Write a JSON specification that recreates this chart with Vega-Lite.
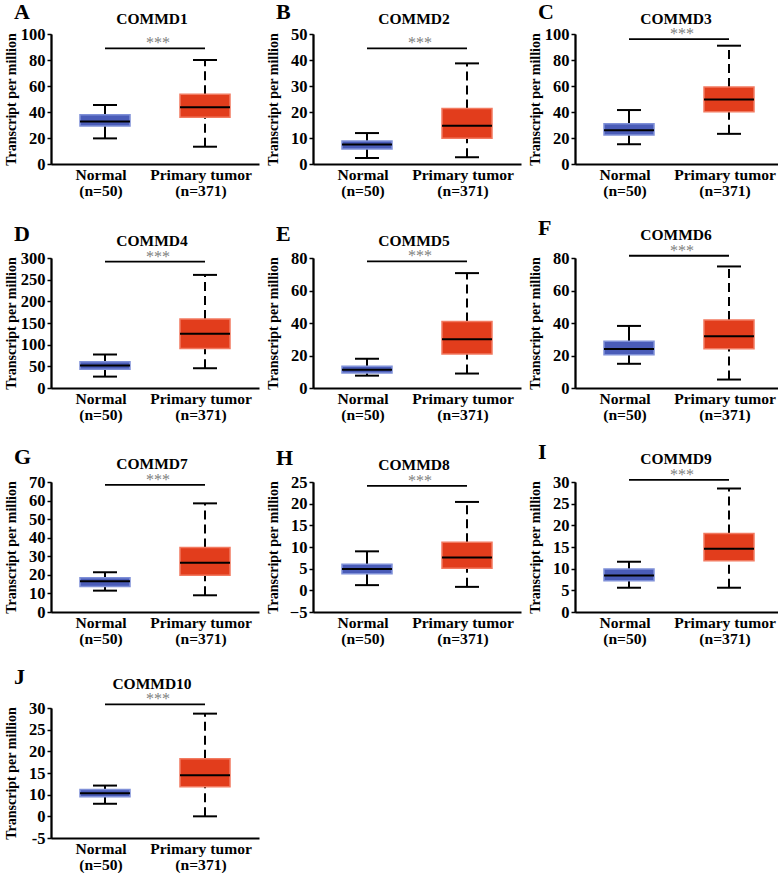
{
  "$schema": "https://vega.github.io/schema/vega-lite/v6.json",
  "padding": {"left": 3, "top": 0, "right": 0, "bottom": 0},
  "datasets": {
    "boxes": [
      {"panel": "A", "group": "Normal", "lower": 19.7, "q1": 29.2, "median": 32.6, "q3": 37.9, "upper": 45.4},
      {"panel": "A", "group": "Primary tumor", "lower": 13.3, "q1": 35.9, "median": 43.6, "q3": 53.6, "upper": 80},
      {"panel": "B", "group": "Normal", "lower": 2.3, "q1": 5.8, "median": 7.5, "q3": 8.8, "upper": 11.9},
      {"panel": "B", "group": "Primary tumor", "lower": 2.6, "q1": 9.9, "median": 14.7, "q3": 21.3, "upper": 38.7},
      {"panel": "C", "group": "Normal", "lower": 15.2, "q1": 22.4, "median": 26.0, "q3": 30.9, "upper": 41.5},
      {"panel": "C", "group": "Primary tumor", "lower": 23.2, "q1": 40.2, "median": 49.7, "q3": 59.3, "upper": 91},
      {"panel": "D", "group": "Normal", "lower": 26.3, "q1": 43.3, "median": 51.8, "q3": 60.3, "upper": 77.3},
      {"panel": "D", "group": "Primary tumor", "lower": 45.6, "q1": 91.3, "median": 125, "q3": 159, "upper": 261},
      {"panel": "E", "group": "Normal", "lower": 7.6, "q1": 9.3, "median": 11.2, "q3": 13.4, "upper": 18.0},
      {"panel": "E", "group": "Primary tumor", "lower": 8.9, "q1": 20.9, "median": 30.0, "q3": 40.9, "upper": 70.7},
      {"panel": "F", "group": "Normal", "lower": 14.9, "q1": 20.5, "median": 24.0, "q3": 28.7, "upper": 38.2},
      {"panel": "F", "group": "Primary tumor", "lower": 5.2, "q1": 24.2, "median": 31.8, "q3": 41.9, "upper": 74.8},
      {"panel": "G", "group": "Normal", "lower": 11.5, "q1": 13.7, "median": 16.6, "q3": 18.5, "upper": 21.4},
      {"panel": "G", "group": "Primary tumor", "lower": 9.0, "q1": 19.8, "median": 26.5, "q3": 34.7, "upper": 58.5},
      {"panel": "H", "group": "Normal", "lower": 1.2, "q1": 3.8, "median": 4.9, "q3": 6.0, "upper": 9.0},
      {"panel": "H", "group": "Primary tumor", "lower": 0.8, "q1": 5.1, "median": 7.6, "q3": 11.1, "upper": 20.4},
      {"panel": "I", "group": "Normal", "lower": 5.6, "q1": 7.2, "median": 8.4, "q3": 9.9, "upper": 11.6},
      {"panel": "I", "group": "Primary tumor", "lower": 5.6, "q1": 11.8, "median": 14.6, "q3": 18.1, "upper": 28.5},
      {"panel": "J", "group": "Normal", "lower": 7.9, "q1": 9.5, "median": 10.3, "q3": 11.2, "upper": 12.1},
      {"panel": "J", "group": "Primary tumor", "lower": 5.0, "q1": 11.8, "median": 14.5, "q3": 18.3, "upper": 28.7}
    ],
    "sig": [
      {"panel": "A", "y": 89, "label": "***"},
      {"panel": "B", "y": 44.5, "label": "***"},
      {"panel": "C", "y": 96.1, "label": "***"},
      {"panel": "D", "y": 291.5, "label": "***"},
      {"panel": "E", "y": 77.9, "label": "***"},
      {"panel": "F", "y": 81.4, "label": "***"},
      {"panel": "G", "y": 68.4, "label": "***"},
      {"panel": "H", "y": 24.1, "label": "***"},
      {"panel": "I", "y": 30.5, "label": "***"},
      {"panel": "J", "y": 30.85, "label": "***"}
    ]
  },
  "spacing": 18,
  "vconcat": [
    {"spacing": 6, "hconcat": [
      {"title": {"text": "A", "anchor": "start", "frame": "bounds", "fontSize": 22, "offset": -29, "dx": 10, "baseline": "alphabetic"},
       "vconcat": [{"width": 208, "height": 130,
        "title": {"text": "COMMD1", "frame": "group", "dx": -3, "baseline": "alphabetic", "offset": -13},
        "resolve": {"axis": {"y": "independent"}},
        "layer": [
          {"data": {"name": "boxes"}, "transform": [{"filter": "datum.panel == 'A'"}],
           "encoding": {"x": {"field": "group", "type": "nominal", "scale": {"domain": ["Normal", "Primary tumor"], "paddingInner": 0, "paddingOuter": 0.04}, "axis": {"labelExpr": "datum.value == 'Normal' ? ['Normal', '(n=50)'] : ['Primary tumor', '(n=371)']"}, "title": null}},
           "layer": [
             {"mark": {"type": "rule", "strokeWidth": 2, "color": "black"}, "encoding": {"y": {"field": "q3", "type": "quantitative", "scale": {"domain": [0, 100], "nice": false, "zero": false}, "axis": {"values": [0, 40, 80], "labelOverlap": false, "title": "Transcript per million"}}, "y2": {"field": "upper"}, "strokeDash": {"field": "group", "type": "nominal", "scale": {"domain": ["Normal", "Primary tumor"], "range": [[1, 0], [9, 5]]}, "legend": null}}},
             {"mark": {"type": "rule", "strokeWidth": 2, "color": "black"}, "encoding": {"y": {"field": "lower", "type": "quantitative"}, "y2": {"field": "q1"}, "strokeDash": {"field": "group", "type": "nominal", "scale": {"domain": ["Normal", "Primary tumor"], "range": [[1, 0], [9, 5]]}, "legend": null}}},
             {"mark": {"type": "tick", "thickness": 2, "size": 24, "color": "black", "opacity": 1}, "encoding": {"y": {"field": "upper", "type": "quantitative"}}},
             {"mark": {"type": "tick", "thickness": 2, "size": 24, "color": "black", "opacity": 1}, "encoding": {"y": {"field": "lower", "type": "quantitative"}}},
             {"mark": {"type": "bar", "width": 50, "strokeWidth": 1.5}, "encoding": {"y": {"field": "q1", "type": "quantitative"}, "y2": {"field": "q3"}, "fill": {"field": "group", "type": "nominal", "scale": {"domain": ["Normal", "Primary tumor"], "range": ["#4a5cb8", "#e23d1c"]}, "legend": null}, "stroke": {"field": "group", "type": "nominal", "scale": {"domain": ["Normal", "Primary tumor"], "range": ["#7f90d8", "#f27a60"]}, "legend": null}}},
             {"mark": {"type": "tick", "thickness": 2, "size": 50, "color": "black", "opacity": 1}, "encoding": {"y": {"field": "median", "type": "quantitative"}}}
           ]},
          {"data": {"name": "sig"}, "transform": [{"filter": "datum.panel == 'A'"}],
           "layer": [
             {"mark": {"type": "rule", "strokeWidth": 1.8, "color": "black"}, "encoding": {"x": {"datum": "Normal", "type": "nominal", "bandPosition": 0.5}, "x2": {"datum": "Primary tumor", "bandPosition": 0.5}, "y": {"field": "y", "type": "quantitative", "axis": {"values": [20, 60, 100], "orient": "left", "labelOverlap": false, "title": null}}}},
             {"mark": {"type": "text", "color": "#808080", "fontSize": 16, "baseline": "alphabetic", "dx": 3, "font": "Liberation Serif"}, "encoding": {"x": {"datum": "Primary tumor", "type": "nominal", "bandPosition": 0}, "y": {"field": "y", "type": "quantitative"}, "text": {"field": "label"}}}
           ]}
        ]}]},
      {"title": {"text": "B", "anchor": "start", "frame": "bounds", "fontSize": 22, "offset": -29, "dx": 10, "baseline": "alphabetic"},
       "vconcat": [{"width": 208, "height": 130,
        "title": {"text": "COMMD2", "frame": "group", "dx": -3, "baseline": "alphabetic", "offset": -13},
        "resolve": {"axis": {"y": "independent"}},
        "layer": [
          {"data": {"name": "boxes"}, "transform": [{"filter": "datum.panel == 'B'"}],
           "encoding": {"x": {"field": "group", "type": "nominal", "scale": {"domain": ["Normal", "Primary tumor"], "paddingInner": 0, "paddingOuter": 0.04}, "axis": {"labelExpr": "datum.value == 'Normal' ? ['Normal', '(n=50)'] : ['Primary tumor', '(n=371)']"}, "title": null}},
           "layer": [
             {"mark": {"type": "rule", "strokeWidth": 2, "color": "black"}, "encoding": {"y": {"field": "q3", "type": "quantitative", "scale": {"domain": [0, 50], "nice": false, "zero": false}, "axis": {"values": [0, 20, 40], "labelOverlap": false, "title": "Transcript per million"}}, "y2": {"field": "upper"}, "strokeDash": {"field": "group", "type": "nominal", "scale": {"domain": ["Normal", "Primary tumor"], "range": [[1, 0], [9, 5]]}, "legend": null}}},
             {"mark": {"type": "rule", "strokeWidth": 2, "color": "black"}, "encoding": {"y": {"field": "lower", "type": "quantitative"}, "y2": {"field": "q1"}, "strokeDash": {"field": "group", "type": "nominal", "scale": {"domain": ["Normal", "Primary tumor"], "range": [[1, 0], [9, 5]]}, "legend": null}}},
             {"mark": {"type": "tick", "thickness": 2, "size": 24, "color": "black", "opacity": 1}, "encoding": {"y": {"field": "upper", "type": "quantitative"}}},
             {"mark": {"type": "tick", "thickness": 2, "size": 24, "color": "black", "opacity": 1}, "encoding": {"y": {"field": "lower", "type": "quantitative"}}},
             {"mark": {"type": "bar", "width": 50, "strokeWidth": 1.5}, "encoding": {"y": {"field": "q1", "type": "quantitative"}, "y2": {"field": "q3"}, "fill": {"field": "group", "type": "nominal", "scale": {"domain": ["Normal", "Primary tumor"], "range": ["#4a5cb8", "#e23d1c"]}, "legend": null}, "stroke": {"field": "group", "type": "nominal", "scale": {"domain": ["Normal", "Primary tumor"], "range": ["#7f90d8", "#f27a60"]}, "legend": null}}},
             {"mark": {"type": "tick", "thickness": 2, "size": 50, "color": "black", "opacity": 1}, "encoding": {"y": {"field": "median", "type": "quantitative"}}}
           ]},
          {"data": {"name": "sig"}, "transform": [{"filter": "datum.panel == 'B'"}],
           "layer": [
             {"mark": {"type": "rule", "strokeWidth": 1.8, "color": "black"}, "encoding": {"x": {"datum": "Normal", "type": "nominal", "bandPosition": 0.5}, "x2": {"datum": "Primary tumor", "bandPosition": 0.5}, "y": {"field": "y", "type": "quantitative", "axis": {"values": [10, 30, 50], "orient": "left", "labelOverlap": false, "title": null}}}},
             {"mark": {"type": "text", "color": "#808080", "fontSize": 16, "baseline": "alphabetic", "dx": 3, "font": "Liberation Serif"}, "encoding": {"x": {"datum": "Primary tumor", "type": "nominal", "bandPosition": 0}, "y": {"field": "y", "type": "quantitative"}, "text": {"field": "label"}}}
           ]}
        ]}]},
      {"title": {"text": "C", "anchor": "start", "frame": "bounds", "fontSize": 22, "offset": -29, "dx": 10, "baseline": "alphabetic"},
       "vconcat": [{"width": 208, "height": 130,
        "title": {"text": "COMMD3", "frame": "group", "dx": -3, "baseline": "alphabetic", "offset": -13},
        "resolve": {"axis": {"y": "independent"}},
        "layer": [
          {"data": {"name": "boxes"}, "transform": [{"filter": "datum.panel == 'C'"}],
           "encoding": {"x": {"field": "group", "type": "nominal", "scale": {"domain": ["Normal", "Primary tumor"], "paddingInner": 0, "paddingOuter": 0.04}, "axis": {"labelExpr": "datum.value == 'Normal' ? ['Normal', '(n=50)'] : ['Primary tumor', '(n=371)']"}, "title": null}},
           "layer": [
             {"mark": {"type": "rule", "strokeWidth": 2, "color": "black"}, "encoding": {"y": {"field": "q3", "type": "quantitative", "scale": {"domain": [0, 100], "nice": false, "zero": false}, "axis": {"values": [0, 40, 80], "labelOverlap": false, "title": "Transcript per million"}}, "y2": {"field": "upper"}, "strokeDash": {"field": "group", "type": "nominal", "scale": {"domain": ["Normal", "Primary tumor"], "range": [[1, 0], [9, 5]]}, "legend": null}}},
             {"mark": {"type": "rule", "strokeWidth": 2, "color": "black"}, "encoding": {"y": {"field": "lower", "type": "quantitative"}, "y2": {"field": "q1"}, "strokeDash": {"field": "group", "type": "nominal", "scale": {"domain": ["Normal", "Primary tumor"], "range": [[1, 0], [9, 5]]}, "legend": null}}},
             {"mark": {"type": "tick", "thickness": 2, "size": 24, "color": "black", "opacity": 1}, "encoding": {"y": {"field": "upper", "type": "quantitative"}}},
             {"mark": {"type": "tick", "thickness": 2, "size": 24, "color": "black", "opacity": 1}, "encoding": {"y": {"field": "lower", "type": "quantitative"}}},
             {"mark": {"type": "bar", "width": 50, "strokeWidth": 1.5}, "encoding": {"y": {"field": "q1", "type": "quantitative"}, "y2": {"field": "q3"}, "fill": {"field": "group", "type": "nominal", "scale": {"domain": ["Normal", "Primary tumor"], "range": ["#4a5cb8", "#e23d1c"]}, "legend": null}, "stroke": {"field": "group", "type": "nominal", "scale": {"domain": ["Normal", "Primary tumor"], "range": ["#7f90d8", "#f27a60"]}, "legend": null}}},
             {"mark": {"type": "tick", "thickness": 2, "size": 50, "color": "black", "opacity": 1}, "encoding": {"y": {"field": "median", "type": "quantitative"}}}
           ]},
          {"data": {"name": "sig"}, "transform": [{"filter": "datum.panel == 'C'"}],
           "layer": [
             {"mark": {"type": "rule", "strokeWidth": 1.8, "color": "black"}, "encoding": {"x": {"datum": "Normal", "type": "nominal", "bandPosition": 0.5}, "x2": {"datum": "Primary tumor", "bandPosition": 0.5}, "y": {"field": "y", "type": "quantitative", "axis": {"values": [20, 60, 100], "orient": "left", "labelOverlap": false, "title": null}}}},
             {"mark": {"type": "text", "color": "#808080", "fontSize": 16, "baseline": "alphabetic", "dx": 3, "font": "Liberation Serif"}, "encoding": {"x": {"datum": "Primary tumor", "type": "nominal", "bandPosition": 0}, "y": {"field": "y", "type": "quantitative"}, "text": {"field": "label"}}}
           ]}
        ]}]}
    ]},
    {"spacing": 6, "hconcat": [
      {"title": {"text": "D", "anchor": "start", "frame": "bounds", "fontSize": 22, "offset": -29, "dx": 10, "baseline": "alphabetic"},
       "vconcat": [{"width": 208, "height": 130,
        "title": {"text": "COMMD4", "frame": "group", "dx": -3, "baseline": "alphabetic", "offset": -13},
        "resolve": {"axis": {"y": "independent"}},
        "layer": [
          {"data": {"name": "boxes"}, "transform": [{"filter": "datum.panel == 'D'"}],
           "encoding": {"x": {"field": "group", "type": "nominal", "scale": {"domain": ["Normal", "Primary tumor"], "paddingInner": 0, "paddingOuter": 0.04}, "axis": {"labelExpr": "datum.value == 'Normal' ? ['Normal', '(n=50)'] : ['Primary tumor', '(n=371)']"}, "title": null}},
           "layer": [
             {"mark": {"type": "rule", "strokeWidth": 2, "color": "black"}, "encoding": {"y": {"field": "q3", "type": "quantitative", "scale": {"domain": [0, 300], "nice": false, "zero": false}, "axis": {"values": [0, 100, 200, 300], "labelOverlap": false, "title": "Transcript per million"}}, "y2": {"field": "upper"}, "strokeDash": {"field": "group", "type": "nominal", "scale": {"domain": ["Normal", "Primary tumor"], "range": [[1, 0], [9, 5]]}, "legend": null}}},
             {"mark": {"type": "rule", "strokeWidth": 2, "color": "black"}, "encoding": {"y": {"field": "lower", "type": "quantitative"}, "y2": {"field": "q1"}, "strokeDash": {"field": "group", "type": "nominal", "scale": {"domain": ["Normal", "Primary tumor"], "range": [[1, 0], [9, 5]]}, "legend": null}}},
             {"mark": {"type": "tick", "thickness": 2, "size": 24, "color": "black", "opacity": 1}, "encoding": {"y": {"field": "upper", "type": "quantitative"}}},
             {"mark": {"type": "tick", "thickness": 2, "size": 24, "color": "black", "opacity": 1}, "encoding": {"y": {"field": "lower", "type": "quantitative"}}},
             {"mark": {"type": "bar", "width": 50, "strokeWidth": 1.5}, "encoding": {"y": {"field": "q1", "type": "quantitative"}, "y2": {"field": "q3"}, "fill": {"field": "group", "type": "nominal", "scale": {"domain": ["Normal", "Primary tumor"], "range": ["#4a5cb8", "#e23d1c"]}, "legend": null}, "stroke": {"field": "group", "type": "nominal", "scale": {"domain": ["Normal", "Primary tumor"], "range": ["#7f90d8", "#f27a60"]}, "legend": null}}},
             {"mark": {"type": "tick", "thickness": 2, "size": 50, "color": "black", "opacity": 1}, "encoding": {"y": {"field": "median", "type": "quantitative"}}}
           ]},
          {"data": {"name": "sig"}, "transform": [{"filter": "datum.panel == 'D'"}],
           "layer": [
             {"mark": {"type": "rule", "strokeWidth": 1.8, "color": "black"}, "encoding": {"x": {"datum": "Normal", "type": "nominal", "bandPosition": 0.5}, "x2": {"datum": "Primary tumor", "bandPosition": 0.5}, "y": {"field": "y", "type": "quantitative", "axis": {"values": [50, 150, 250], "orient": "left", "labelOverlap": false, "title": null}}}},
             {"mark": {"type": "text", "color": "#808080", "fontSize": 16, "baseline": "alphabetic", "dx": 3, "font": "Liberation Serif"}, "encoding": {"x": {"datum": "Primary tumor", "type": "nominal", "bandPosition": 0}, "y": {"field": "y", "type": "quantitative"}, "text": {"field": "label"}}}
           ]}
        ]}]},
      {"title": {"text": "E", "anchor": "start", "frame": "bounds", "fontSize": 22, "offset": -29, "dx": 10, "baseline": "alphabetic"},
       "vconcat": [{"width": 208, "height": 130,
        "title": {"text": "COMMD5", "frame": "group", "dx": -3, "baseline": "alphabetic", "offset": -13},
        "resolve": {"axis": {"y": "independent"}},
        "layer": [
          {"data": {"name": "boxes"}, "transform": [{"filter": "datum.panel == 'E'"}],
           "encoding": {"x": {"field": "group", "type": "nominal", "scale": {"domain": ["Normal", "Primary tumor"], "paddingInner": 0, "paddingOuter": 0.04}, "axis": {"labelExpr": "datum.value == 'Normal' ? ['Normal', '(n=50)'] : ['Primary tumor', '(n=371)']"}, "title": null}},
           "layer": [
             {"mark": {"type": "rule", "strokeWidth": 2, "color": "black"}, "encoding": {"y": {"field": "q3", "type": "quantitative", "scale": {"domain": [0, 80], "nice": false, "zero": false}, "axis": {"values": [0, 40, 80], "labelOverlap": false, "title": "Transcript per million"}}, "y2": {"field": "upper"}, "strokeDash": {"field": "group", "type": "nominal", "scale": {"domain": ["Normal", "Primary tumor"], "range": [[1, 0], [9, 5]]}, "legend": null}}},
             {"mark": {"type": "rule", "strokeWidth": 2, "color": "black"}, "encoding": {"y": {"field": "lower", "type": "quantitative"}, "y2": {"field": "q1"}, "strokeDash": {"field": "group", "type": "nominal", "scale": {"domain": ["Normal", "Primary tumor"], "range": [[1, 0], [9, 5]]}, "legend": null}}},
             {"mark": {"type": "tick", "thickness": 2, "size": 24, "color": "black", "opacity": 1}, "encoding": {"y": {"field": "upper", "type": "quantitative"}}},
             {"mark": {"type": "tick", "thickness": 2, "size": 24, "color": "black", "opacity": 1}, "encoding": {"y": {"field": "lower", "type": "quantitative"}}},
             {"mark": {"type": "bar", "width": 50, "strokeWidth": 1.5}, "encoding": {"y": {"field": "q1", "type": "quantitative"}, "y2": {"field": "q3"}, "fill": {"field": "group", "type": "nominal", "scale": {"domain": ["Normal", "Primary tumor"], "range": ["#4a5cb8", "#e23d1c"]}, "legend": null}, "stroke": {"field": "group", "type": "nominal", "scale": {"domain": ["Normal", "Primary tumor"], "range": ["#7f90d8", "#f27a60"]}, "legend": null}}},
             {"mark": {"type": "tick", "thickness": 2, "size": 50, "color": "black", "opacity": 1}, "encoding": {"y": {"field": "median", "type": "quantitative"}}}
           ]},
          {"data": {"name": "sig"}, "transform": [{"filter": "datum.panel == 'E'"}],
           "layer": [
             {"mark": {"type": "rule", "strokeWidth": 1.8, "color": "black"}, "encoding": {"x": {"datum": "Normal", "type": "nominal", "bandPosition": 0.5}, "x2": {"datum": "Primary tumor", "bandPosition": 0.5}, "y": {"field": "y", "type": "quantitative", "axis": {"values": [20, 60], "orient": "left", "labelOverlap": false, "title": null}}}},
             {"mark": {"type": "text", "color": "#808080", "fontSize": 16, "baseline": "alphabetic", "dx": 3, "font": "Liberation Serif"}, "encoding": {"x": {"datum": "Primary tumor", "type": "nominal", "bandPosition": 0}, "y": {"field": "y", "type": "quantitative"}, "text": {"field": "label"}}}
           ]}
        ]}]},
      {"title": {"text": "F", "anchor": "start", "frame": "bounds", "fontSize": 22, "offset": -29, "dx": 10, "baseline": "alphabetic"},
       "vconcat": [{"width": 208, "height": 130,
        "title": {"text": "COMMD6", "frame": "group", "dx": -3, "baseline": "alphabetic", "offset": -13},
        "resolve": {"axis": {"y": "independent"}},
        "layer": [
          {"data": {"name": "boxes"}, "transform": [{"filter": "datum.panel == 'F'"}],
           "encoding": {"x": {"field": "group", "type": "nominal", "scale": {"domain": ["Normal", "Primary tumor"], "paddingInner": 0, "paddingOuter": 0.04}, "axis": {"labelExpr": "datum.value == 'Normal' ? ['Normal', '(n=50)'] : ['Primary tumor', '(n=371)']"}, "title": null}},
           "layer": [
             {"mark": {"type": "rule", "strokeWidth": 2, "color": "black"}, "encoding": {"y": {"field": "q3", "type": "quantitative", "scale": {"domain": [0, 80], "nice": false, "zero": false}, "axis": {"values": [0, 40, 80], "labelOverlap": false, "title": "Transcript per million"}}, "y2": {"field": "upper"}, "strokeDash": {"field": "group", "type": "nominal", "scale": {"domain": ["Normal", "Primary tumor"], "range": [[1, 0], [9, 5]]}, "legend": null}}},
             {"mark": {"type": "rule", "strokeWidth": 2, "color": "black"}, "encoding": {"y": {"field": "lower", "type": "quantitative"}, "y2": {"field": "q1"}, "strokeDash": {"field": "group", "type": "nominal", "scale": {"domain": ["Normal", "Primary tumor"], "range": [[1, 0], [9, 5]]}, "legend": null}}},
             {"mark": {"type": "tick", "thickness": 2, "size": 24, "color": "black", "opacity": 1}, "encoding": {"y": {"field": "upper", "type": "quantitative"}}},
             {"mark": {"type": "tick", "thickness": 2, "size": 24, "color": "black", "opacity": 1}, "encoding": {"y": {"field": "lower", "type": "quantitative"}}},
             {"mark": {"type": "bar", "width": 50, "strokeWidth": 1.5}, "encoding": {"y": {"field": "q1", "type": "quantitative"}, "y2": {"field": "q3"}, "fill": {"field": "group", "type": "nominal", "scale": {"domain": ["Normal", "Primary tumor"], "range": ["#4a5cb8", "#e23d1c"]}, "legend": null}, "stroke": {"field": "group", "type": "nominal", "scale": {"domain": ["Normal", "Primary tumor"], "range": ["#7f90d8", "#f27a60"]}, "legend": null}}},
             {"mark": {"type": "tick", "thickness": 2, "size": 50, "color": "black", "opacity": 1}, "encoding": {"y": {"field": "median", "type": "quantitative"}}}
           ]},
          {"data": {"name": "sig"}, "transform": [{"filter": "datum.panel == 'F'"}],
           "layer": [
             {"mark": {"type": "rule", "strokeWidth": 1.8, "color": "black"}, "encoding": {"x": {"datum": "Normal", "type": "nominal", "bandPosition": 0.5}, "x2": {"datum": "Primary tumor", "bandPosition": 0.5}, "y": {"field": "y", "type": "quantitative", "axis": {"values": [20, 60], "orient": "left", "labelOverlap": false, "title": null}}}},
             {"mark": {"type": "text", "color": "#808080", "fontSize": 16, "baseline": "alphabetic", "dx": 3, "font": "Liberation Serif"}, "encoding": {"x": {"datum": "Primary tumor", "type": "nominal", "bandPosition": 0}, "y": {"field": "y", "type": "quantitative"}, "text": {"field": "label"}}}
           ]}
        ]}]}
    ]},
    {"spacing": 6, "hconcat": [
      {"title": {"text": "G", "anchor": "start", "frame": "bounds", "fontSize": 22, "offset": -29, "dx": 10, "baseline": "alphabetic"},
       "vconcat": [{"width": 208, "height": 130,
        "title": {"text": "COMMD7", "frame": "group", "dx": -3, "baseline": "alphabetic", "offset": -13},
        "resolve": {"axis": {"y": "independent"}},
        "layer": [
          {"data": {"name": "boxes"}, "transform": [{"filter": "datum.panel == 'G'"}],
           "encoding": {"x": {"field": "group", "type": "nominal", "scale": {"domain": ["Normal", "Primary tumor"], "paddingInner": 0, "paddingOuter": 0.04}, "axis": {"labelExpr": "datum.value == 'Normal' ? ['Normal', '(n=50)'] : ['Primary tumor', '(n=371)']"}, "title": null}},
           "layer": [
             {"mark": {"type": "rule", "strokeWidth": 2, "color": "black"}, "encoding": {"y": {"field": "q3", "type": "quantitative", "scale": {"domain": [0, 70], "nice": false, "zero": false}, "axis": {"values": [0, 20, 40, 60], "labelOverlap": false, "title": "Transcript per million"}}, "y2": {"field": "upper"}, "strokeDash": {"field": "group", "type": "nominal", "scale": {"domain": ["Normal", "Primary tumor"], "range": [[1, 0], [9, 5]]}, "legend": null}}},
             {"mark": {"type": "rule", "strokeWidth": 2, "color": "black"}, "encoding": {"y": {"field": "lower", "type": "quantitative"}, "y2": {"field": "q1"}, "strokeDash": {"field": "group", "type": "nominal", "scale": {"domain": ["Normal", "Primary tumor"], "range": [[1, 0], [9, 5]]}, "legend": null}}},
             {"mark": {"type": "tick", "thickness": 2, "size": 24, "color": "black", "opacity": 1}, "encoding": {"y": {"field": "upper", "type": "quantitative"}}},
             {"mark": {"type": "tick", "thickness": 2, "size": 24, "color": "black", "opacity": 1}, "encoding": {"y": {"field": "lower", "type": "quantitative"}}},
             {"mark": {"type": "bar", "width": 50, "strokeWidth": 1.5}, "encoding": {"y": {"field": "q1", "type": "quantitative"}, "y2": {"field": "q3"}, "fill": {"field": "group", "type": "nominal", "scale": {"domain": ["Normal", "Primary tumor"], "range": ["#4a5cb8", "#e23d1c"]}, "legend": null}, "stroke": {"field": "group", "type": "nominal", "scale": {"domain": ["Normal", "Primary tumor"], "range": ["#7f90d8", "#f27a60"]}, "legend": null}}},
             {"mark": {"type": "tick", "thickness": 2, "size": 50, "color": "black", "opacity": 1}, "encoding": {"y": {"field": "median", "type": "quantitative"}}}
           ]},
          {"data": {"name": "sig"}, "transform": [{"filter": "datum.panel == 'G'"}],
           "layer": [
             {"mark": {"type": "rule", "strokeWidth": 1.8, "color": "black"}, "encoding": {"x": {"datum": "Normal", "type": "nominal", "bandPosition": 0.5}, "x2": {"datum": "Primary tumor", "bandPosition": 0.5}, "y": {"field": "y", "type": "quantitative", "axis": {"values": [10, 30, 50, 70], "orient": "left", "labelOverlap": false, "title": null}}}},
             {"mark": {"type": "text", "color": "#808080", "fontSize": 16, "baseline": "alphabetic", "dx": 3, "font": "Liberation Serif"}, "encoding": {"x": {"datum": "Primary tumor", "type": "nominal", "bandPosition": 0}, "y": {"field": "y", "type": "quantitative"}, "text": {"field": "label"}}}
           ]}
        ]}]},
      {"title": {"text": "H", "anchor": "start", "frame": "bounds", "fontSize": 22, "offset": -29, "dx": 10, "baseline": "alphabetic"},
       "vconcat": [{"width": 208, "height": 130,
        "title": {"text": "COMMD8", "frame": "group", "dx": -3, "baseline": "alphabetic", "offset": -13},
        "resolve": {"axis": {"y": "independent"}},
        "layer": [
          {"data": {"name": "boxes"}, "transform": [{"filter": "datum.panel == 'H'"}],
           "encoding": {"x": {"field": "group", "type": "nominal", "scale": {"domain": ["Normal", "Primary tumor"], "paddingInner": 0, "paddingOuter": 0.04}, "axis": {"labelExpr": "datum.value == 'Normal' ? ['Normal', '(n=50)'] : ['Primary tumor', '(n=371)']"}, "title": null}},
           "layer": [
             {"mark": {"type": "rule", "strokeWidth": 2, "color": "black"}, "encoding": {"y": {"field": "q3", "type": "quantitative", "scale": {"domain": [-5, 25], "nice": false, "zero": false}, "axis": {"values": [-5, 5, 15, 25], "labelOverlap": false, "title": "Transcript per million"}}, "y2": {"field": "upper"}, "strokeDash": {"field": "group", "type": "nominal", "scale": {"domain": ["Normal", "Primary tumor"], "range": [[1, 0], [9, 5]]}, "legend": null}}},
             {"mark": {"type": "rule", "strokeWidth": 2, "color": "black"}, "encoding": {"y": {"field": "lower", "type": "quantitative"}, "y2": {"field": "q1"}, "strokeDash": {"field": "group", "type": "nominal", "scale": {"domain": ["Normal", "Primary tumor"], "range": [[1, 0], [9, 5]]}, "legend": null}}},
             {"mark": {"type": "tick", "thickness": 2, "size": 24, "color": "black", "opacity": 1}, "encoding": {"y": {"field": "upper", "type": "quantitative"}}},
             {"mark": {"type": "tick", "thickness": 2, "size": 24, "color": "black", "opacity": 1}, "encoding": {"y": {"field": "lower", "type": "quantitative"}}},
             {"mark": {"type": "bar", "width": 50, "strokeWidth": 1.5}, "encoding": {"y": {"field": "q1", "type": "quantitative"}, "y2": {"field": "q3"}, "fill": {"field": "group", "type": "nominal", "scale": {"domain": ["Normal", "Primary tumor"], "range": ["#4a5cb8", "#e23d1c"]}, "legend": null}, "stroke": {"field": "group", "type": "nominal", "scale": {"domain": ["Normal", "Primary tumor"], "range": ["#7f90d8", "#f27a60"]}, "legend": null}}},
             {"mark": {"type": "tick", "thickness": 2, "size": 50, "color": "black", "opacity": 1}, "encoding": {"y": {"field": "median", "type": "quantitative"}}}
           ]},
          {"data": {"name": "sig"}, "transform": [{"filter": "datum.panel == 'H'"}],
           "layer": [
             {"mark": {"type": "rule", "strokeWidth": 1.8, "color": "black"}, "encoding": {"x": {"datum": "Normal", "type": "nominal", "bandPosition": 0.5}, "x2": {"datum": "Primary tumor", "bandPosition": 0.5}, "y": {"field": "y", "type": "quantitative", "axis": {"values": [0, 10, 20], "orient": "left", "labelOverlap": false, "title": null}}}},
             {"mark": {"type": "text", "color": "#808080", "fontSize": 16, "baseline": "alphabetic", "dx": 3, "font": "Liberation Serif"}, "encoding": {"x": {"datum": "Primary tumor", "type": "nominal", "bandPosition": 0}, "y": {"field": "y", "type": "quantitative"}, "text": {"field": "label"}}}
           ]}
        ]}]},
      {"title": {"text": "I", "anchor": "start", "frame": "bounds", "fontSize": 22, "offset": -29, "dx": 10, "baseline": "alphabetic"},
       "vconcat": [{"width": 208, "height": 130,
        "title": {"text": "COMMD9", "frame": "group", "dx": -3, "baseline": "alphabetic", "offset": -13},
        "resolve": {"axis": {"y": "independent"}},
        "layer": [
          {"data": {"name": "boxes"}, "transform": [{"filter": "datum.panel == 'I'"}],
           "encoding": {"x": {"field": "group", "type": "nominal", "scale": {"domain": ["Normal", "Primary tumor"], "paddingInner": 0, "paddingOuter": 0.04}, "axis": {"labelExpr": "datum.value == 'Normal' ? ['Normal', '(n=50)'] : ['Primary tumor', '(n=371)']"}, "title": null}},
           "layer": [
             {"mark": {"type": "rule", "strokeWidth": 2, "color": "black"}, "encoding": {"y": {"field": "q3", "type": "quantitative", "scale": {"domain": [0, 30], "nice": false, "zero": false}, "axis": {"values": [0, 10, 20, 30], "labelOverlap": false, "title": "Transcript per million"}}, "y2": {"field": "upper"}, "strokeDash": {"field": "group", "type": "nominal", "scale": {"domain": ["Normal", "Primary tumor"], "range": [[1, 0], [9, 5]]}, "legend": null}}},
             {"mark": {"type": "rule", "strokeWidth": 2, "color": "black"}, "encoding": {"y": {"field": "lower", "type": "quantitative"}, "y2": {"field": "q1"}, "strokeDash": {"field": "group", "type": "nominal", "scale": {"domain": ["Normal", "Primary tumor"], "range": [[1, 0], [9, 5]]}, "legend": null}}},
             {"mark": {"type": "tick", "thickness": 2, "size": 24, "color": "black", "opacity": 1}, "encoding": {"y": {"field": "upper", "type": "quantitative"}}},
             {"mark": {"type": "tick", "thickness": 2, "size": 24, "color": "black", "opacity": 1}, "encoding": {"y": {"field": "lower", "type": "quantitative"}}},
             {"mark": {"type": "bar", "width": 50, "strokeWidth": 1.5}, "encoding": {"y": {"field": "q1", "type": "quantitative"}, "y2": {"field": "q3"}, "fill": {"field": "group", "type": "nominal", "scale": {"domain": ["Normal", "Primary tumor"], "range": ["#4a5cb8", "#e23d1c"]}, "legend": null}, "stroke": {"field": "group", "type": "nominal", "scale": {"domain": ["Normal", "Primary tumor"], "range": ["#7f90d8", "#f27a60"]}, "legend": null}}},
             {"mark": {"type": "tick", "thickness": 2, "size": 50, "color": "black", "opacity": 1}, "encoding": {"y": {"field": "median", "type": "quantitative"}}}
           ]},
          {"data": {"name": "sig"}, "transform": [{"filter": "datum.panel == 'I'"}],
           "layer": [
             {"mark": {"type": "rule", "strokeWidth": 1.8, "color": "black"}, "encoding": {"x": {"datum": "Normal", "type": "nominal", "bandPosition": 0.5}, "x2": {"datum": "Primary tumor", "bandPosition": 0.5}, "y": {"field": "y", "type": "quantitative", "axis": {"values": [5, 15, 25], "orient": "left", "labelOverlap": false, "title": null}}}},
             {"mark": {"type": "text", "color": "#808080", "fontSize": 16, "baseline": "alphabetic", "dx": 3, "font": "Liberation Serif"}, "encoding": {"x": {"datum": "Primary tumor", "type": "nominal", "bandPosition": 0}, "y": {"field": "y", "type": "quantitative"}, "text": {"field": "label"}}}
           ]}
        ]}]}
    ]},
    {"spacing": 6, "hconcat": [
      {"title": {"text": "J", "anchor": "start", "frame": "bounds", "fontSize": 22, "offset": -29, "dx": 10, "baseline": "alphabetic"},
       "vconcat": [{"width": 208, "height": 130,
        "title": {"text": "COMMD10", "frame": "group", "dx": -3, "baseline": "alphabetic", "offset": -13},
        "resolve": {"axis": {"y": "independent"}},
        "layer": [
          {"data": {"name": "boxes"}, "transform": [{"filter": "datum.panel == 'J'"}],
           "encoding": {"x": {"field": "group", "type": "nominal", "scale": {"domain": ["Normal", "Primary tumor"], "paddingInner": 0, "paddingOuter": 0.04}, "axis": {"labelExpr": "datum.value == 'Normal' ? ['Normal', '(n=50)'] : ['Primary tumor', '(n=371)']"}, "title": null}},
           "layer": [
             {"mark": {"type": "rule", "strokeWidth": 2, "color": "black"}, "encoding": {"y": {"field": "q3", "type": "quantitative", "scale": {"domain": [0, 30], "nice": false, "zero": false}, "axis": {"values": [0, 10, 20, 30], "labelOverlap": false, "labelExpr": "datum.value == 5 ? '0' : datum.value == 0 ? '-5' : datum.label", "title": "Transcript per million"}}, "y2": {"field": "upper"}, "strokeDash": {"field": "group", "type": "nominal", "scale": {"domain": ["Normal", "Primary tumor"], "range": [[1, 0], [9, 5]]}, "legend": null}}},
             {"mark": {"type": "rule", "strokeWidth": 2, "color": "black"}, "encoding": {"y": {"field": "lower", "type": "quantitative"}, "y2": {"field": "q1"}, "strokeDash": {"field": "group", "type": "nominal", "scale": {"domain": ["Normal", "Primary tumor"], "range": [[1, 0], [9, 5]]}, "legend": null}}},
             {"mark": {"type": "tick", "thickness": 2, "size": 24, "color": "black", "opacity": 1}, "encoding": {"y": {"field": "upper", "type": "quantitative"}}},
             {"mark": {"type": "tick", "thickness": 2, "size": 24, "color": "black", "opacity": 1}, "encoding": {"y": {"field": "lower", "type": "quantitative"}}},
             {"mark": {"type": "bar", "width": 50, "strokeWidth": 1.5}, "encoding": {"y": {"field": "q1", "type": "quantitative"}, "y2": {"field": "q3"}, "fill": {"field": "group", "type": "nominal", "scale": {"domain": ["Normal", "Primary tumor"], "range": ["#4a5cb8", "#e23d1c"]}, "legend": null}, "stroke": {"field": "group", "type": "nominal", "scale": {"domain": ["Normal", "Primary tumor"], "range": ["#7f90d8", "#f27a60"]}, "legend": null}}},
             {"mark": {"type": "tick", "thickness": 2, "size": 50, "color": "black", "opacity": 1}, "encoding": {"y": {"field": "median", "type": "quantitative"}}}
           ]},
          {"data": {"name": "sig"}, "transform": [{"filter": "datum.panel == 'J'"}],
           "layer": [
             {"mark": {"type": "rule", "strokeWidth": 1.8, "color": "black"}, "encoding": {"x": {"datum": "Normal", "type": "nominal", "bandPosition": 0.5}, "x2": {"datum": "Primary tumor", "bandPosition": 0.5}, "y": {"field": "y", "type": "quantitative", "axis": {"values": [5, 15, 25], "orient": "left", "labelOverlap": false, "labelExpr": "datum.value == 5 ? '0' : datum.value == 0 ? '-5' : datum.label", "title": null}}}},
             {"mark": {"type": "text", "color": "#808080", "fontSize": 16, "baseline": "alphabetic", "dx": 3, "font": "Liberation Serif"}, "encoding": {"x": {"datum": "Primary tumor", "type": "nominal", "bandPosition": 0}, "y": {"field": "y", "type": "quantitative"}, "text": {"field": "label"}}}
           ]}
        ]}]}
    ]}
  ],
  "config": {
    "font": "Liberation Serif",
    "view": {"stroke": null},
    "axis": {"grid": false, "domainColor": "black", "domainWidth": 1.8, "tickColor": "black", "labelColor": "black", "labelFont": "Liberation Serif", "labelFontWeight": "bold", "labelFontSize": 16.5, "labelOverlap": false, "titleFont": "Liberation Serif", "titleFontWeight": "bold", "titleFontSize": 14, "titleColor": "black"},
    "axisY": {"tickSize": 4, "tickWidth": 1.5, "labelPadding": 2, "minExtent": 30, "maxExtent": 30, "titlePadding": 3, "labelOverlap": false},
    "axisX": {"ticks": false, "labelPadding": 3, "labelAngle": 0, "labelFontSize": 15.6, "labelLineHeight": 16, "labelBaseline": "top", "labelOffset": -4},
    "title": {"font": "Liberation Serif", "fontWeight": "bold", "fontSize": 15.5, "color": "black"}
  }
}
